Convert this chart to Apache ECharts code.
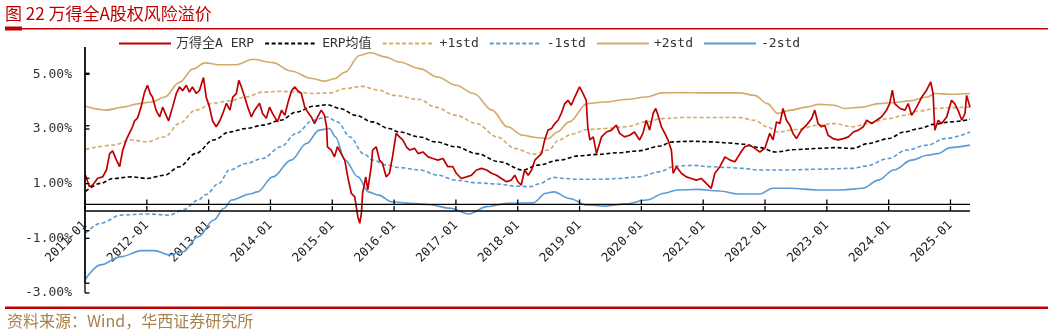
<!DOCTYPE html>
<html>
<head>
<meta charset="utf-8">
<script src="https://cdn.jsdelivr.net/npm/echarts@6/dist/echarts.min.js"></script>
<style>
  html, body { margin: 0; padding: 0; background: #fff; }
  #chart { width: 1053px; height: 336px; }
</style>
</head>
<body>
<div id="chart"></div>
<script>
// ---- data -------------------------------------------------------------
const titleText = '图 22 万得全A股权风险溢价';
const sourceText = '资料来源：Wind，华西证券研究所';
const seriesNames = ['万得全A ERP', 'ERP均值', '+1std', '-1std', '+2std', '-2std'];

const yRange = { min: -3, max: 6, step: 2 };
const yTickValues = [-3, -1, 1, 3, 5];
const yearTicks = [2011, 2012, 2013, 2014, 2015, 2016, 2017, 2018, 2019, 2020, 2021, 2022, 2023, 2024, 2025];

// 万得全A ERP (%)
const erp = [
  ['2011-01-04',1.31],['2011-01-27',0.89],['2011-02-16',0.95],['2011-03-15',1.2],['2011-04-14',1.25],['2011-05-06',1.5],
  ['2011-05-25',2.1],['2011-06-12',2.2],['2011-07-04',1.86],['2011-07-23',1.62],['2011-08-10',2.2],['2011-09-01',2.6],
  ['2011-09-20',2.85],['2011-10-08',3.08],['2011-10-20',3.3],['2011-11-07',3.4],['2011-11-28',3.8],['2011-12-18',4.35],
  ['2012-01-05',4.6],['2012-01-21',4.3],['2012-02-04',4.17],['2012-02-25',3.69],['2012-03-16',3.44],['2012-04-03',3.8],
  ['2012-04-24',3.5],['2012-05-08',3.3],['2012-06-01',3.8],['2012-06-23',4.3],['2012-07-12',4.54],['2012-07-30',4.4],
  ['2012-08-21',4.6],['2012-09-09',4.35],['2012-09-27',4.54],['2012-10-19',4.3],['2012-11-07',4.4],['2012-12-01',4.88],
  ['2012-12-17',4.17],['2013-01-06',3.8],['2013-01-24',3.3],['2013-02-15',3.08],['2013-03-06',3.3],['2013-03-24',3.57],
  ['2013-04-15',3.94],['2013-05-05',3.69],['2013-05-22',4.17],['2013-06-13',4.3],['2013-06-27',4.78],['2013-07-12',4.54],
  ['2013-08-01',4.17],['2013-08-19',3.8],['2013-09-10',3.44],['2013-09-29',3.69],['2013-10-28',3.94],['2013-11-15',3.57],
  ['2013-12-07',3.39],['2013-12-26',3.8],['2014-01-13',3.57],['2014-02-12',3.26],['2014-03-06',3.69],['2014-03-25',3.5],
  ['2014-04-12',3.94],['2014-05-04',4.4],['2014-05-23',4.54],['2014-06-10',4.4],['2014-07-01',4.3],['2014-07-21',3.8],
  ['2014-08-08',3.62],['2014-08-29',3.44],['2014-09-18',3.2],['2014-10-06',3.44],['2014-10-27',3.69],['2014-11-16',3.5],
  ['2014-11-28',3.08],['2014-12-03',2.35],['2014-12-25',2.23],['2015-01-14',1.98],['2015-02-01',2.35],['2015-02-23',2.1],
  ['2015-03-14',1.86],['2015-04-01',1.25],['2015-04-22',0.65],['2015-05-12',0.52],['2015-05-30',-0.21],['2015-06-11',-0.45],
  ['2015-06-21',-0.08],['2015-06-28',0.65],['2015-07-16',1.25],['2015-07-28',0.77],['2015-08-18',1.62],['2015-08-26',2.23],
  ['2015-09-17',2.35],['2015-10-06',1.86],['2015-10-24',1.74],['2015-11-15',1.25],['2015-12-04',1.38],['2015-12-22',1.98],
  ['2016-01-13',2.84],['2016-02-02',2.71],['2016-02-21',2.6],['2016-03-03',2.47],['2016-03-12',2.35],['2016-04-02',2.23],
  ['2016-05-01',2.29],['2016-05-21',2.1],['2016-06-19',2.16],['2016-07-19',1.98],['2016-08-17',1.92],['2016-09-16',1.86],
  ['2016-10-16',1.92],['2016-11-14',1.62],['2016-12-13',1.62],['2017-01-03',1.38],['2017-02-02',1.19],['2017-03-03',1.25],
  ['2017-04-02',1.31],['2017-05-01',1.5],['2017-05-31',1.56],['2017-06-30',1.5],['2017-07-29',1.38],['2017-08-28',1.31],
  ['2017-09-26',1.19],['2017-10-26',1.07],['2017-11-24',1.13],['2017-12-14',1.31],['2018-01-02',1.07],['2018-01-22',0.95],
  ['2018-02-11',1.5],['2018-03-02',1.31],['2018-03-22',1.5],['2018-04-11',1.86],['2018-04-30',1.98],['2018-05-20',2.1],
  ['2018-06-08',2.6],['2018-06-28',2.96],['2018-07-18',3.02],['2018-08-07',3.2],['2018-08-26',3.32],['2018-09-15',3.57],
  ['2018-10-05',3.93],['2018-10-24',4.05],['2018-11-13',3.87],['2018-12-03',4.17],['2019-01-01',4.54],['2019-01-21',4.3],
  ['2019-02-10',4.05],['2019-02-19',3.08],['2019-03-01',2.6],['2019-03-21',2.71],['2019-04-10',2.1],['2019-04-19',2.04],
  ['2019-05-09',2.71],['2019-06-08',2.89],['2019-07-07',2.96],['2019-08-05',3.14],['2019-08-25',2.84],['2019-09-23',2.71],
  ['2019-10-23',2.77],['2019-11-21',2.89],['2019-12-21',2.6],['2020-01-10',2.84],['2020-01-30',3.32],['2020-02-19',2.96],
  ['2020-03-10',3.57],['2020-03-25',3.75],['2020-04-08',3.5],['2020-04-28',3.08],['2020-05-18',2.84],['2020-06-06',2.6],
  ['2020-06-26',2.23],['2020-07-06',1.38],['2020-07-26',1.62],['2020-08-24',1.38],['2020-09-23',1.25],['2020-10-22',1.19],
  ['2020-11-21',1.13],['2020-12-20',1.19],['2021-01-19',1.01],['2021-02-18',0.83],['2021-03-09',1.38],['2021-04-08',1.62],
  ['2021-05-08',1.98],['2021-06-07',1.86],['2021-07-06',1.8],['2021-08-05',2.1],['2021-09-03',2.35],['2021-10-03',2.41],
  ['2021-11-01',2.29],['2021-12-01',2.16],['2021-12-30',2.29],['2022-01-29',2.84],['2022-02-18',2.6],['2022-03-08',3.26],
  ['2022-03-28',3.2],['2022-04-16',3.75],['2022-05-06',3.32],['2022-05-26',3.14],['2022-06-14',2.84],['2022-07-04',2.65],
  ['2022-08-03',2.96],['2022-09-02',3.14],['2022-10-02',3.38],['2022-10-21',3.69],['2022-11-10',3.2],['2022-11-30',3.08],
  ['2022-12-19',3.14],['2023-01-08',2.77],['2023-02-07',2.65],['2023-03-08',2.6],['2023-04-07',2.65],['2023-05-07',2.71],
  ['2023-06-05',2.89],['2023-07-05',2.96],['2023-08-03',3.08],['2023-08-23',3.32],['2023-09-22',3.2],['2023-10-21',3.32],
  ['2023-11-19',3.44],['2023-12-19',3.69],['2024-01-07',3.93],['2024-01-23',4.42],['2024-02-06',3.93],['2024-03-07',3.75],
  ['2024-04-06',3.69],['2024-04-25',3.93],['2024-05-15',3.5],['2024-06-14',3.8],['2024-07-14',4.17],['2024-08-12',4.42],
  ['2024-09-06',4.72],['2024-09-20',4.3],['2024-09-30',2.96],['2024-10-20',3.32],['2024-11-09',3.2],['2024-12-09',3.44],
  ['2025-01-07',4.05],['2025-01-26',3.93],['2025-02-15',3.69],['2025-03-07',3.32],['2025-03-26',3.57],['2025-04-05',4.23],
  ['2025-04-25',3.8]
];

// ERP均值 (%)
const erpMean = [
  ['2011-01-04',0.72],['2011-04-01',1.01],['2011-06-15',1.19],['2011-10-01',1.25],['2012-01-01',1.19],['2012-04-15',1.31],
  ['2012-07-10',1.62],['2012-10-15',2.1],['2013-02-01',2.6],['2013-05-01',2.89],['2013-08-10',3.02],['2013-11-15',3.14],
  ['2014-03-01',3.32],['2014-06-01',3.62],['2014-09-10',3.83],['2014-12-01',3.89],['2015-02-15',3.75],['2015-05-20',3.5],
  ['2015-08-25',3.26],['2015-12-01',3.02],['2016-02-01',2.89],['2016-06-01',2.71],['2016-09-01',2.53],['2017-01-01',2.35],
  ['2017-05-01',2.1],['2017-09-15',1.8],['2018-02-01',1.5],['2018-05-01',1.68],['2018-09-01',1.86],['2019-01-01',2.02],
  ['2019-04-15',2.07],['2019-08-15',2.13],['2019-12-15',2.2],['2020-04-15',2.37],['2020-07-01',2.53],['2020-11-01',2.55],
  ['2021-02-15',2.53],['2021-06-01',2.49],['2021-08-15',2.45],['2021-12-01',2.32],['2022-03-01',2.16],['2022-07-01',2.25],
  ['2022-11-15',2.29],['2023-02-15',2.32],['2023-06-01',2.29],['2023-09-01',2.47],['2024-01-01',2.65],['2024-04-01',2.89],
  ['2024-07-01',3.02],['2024-10-01',3.18],['2025-01-01',3.26],['2025-04-25',3.35]
];

// +1std (%)
const plus1Std = [
  ['2011-01-04',2.25],['2011-06-15',2.41],['2011-10-01',2.6],['2012-01-01',2.53],['2012-04-15',2.71],['2012-07-10',3.2],
  ['2012-10-15',3.69],['2013-02-01',3.95],['2013-05-01',4.03],['2013-08-10',4.17],['2013-11-15',4.35],['2014-03-01',4.38],
  ['2014-06-01',4.35],['2014-09-10',4.3],['2014-12-15',4.32],['2015-03-20',4.48],['2015-06-25',4.56],['2015-10-01',4.42],
  ['2016-01-01',4.23],['2016-06-01',4.08],['2016-09-01',3.8],['2017-01-01',3.5],['2017-05-01',3.2],['2017-09-01',2.71],
  ['2017-12-15',2.29],['2018-04-01',2.08],['2018-07-01',2.23],['2018-09-01',2.6],['2018-11-15',2.81],['2019-02-15',2.98],
  ['2019-06-01',3.02],['2019-10-01',3.08],['2020-02-01',3.26],['2020-05-01',3.38],['2020-09-01',3.42],['2021-01-01',3.42],
  ['2021-08-01',3.42],['2021-11-01',3.32],['2022-01-15',3.08],['2022-03-15',2.89],['2022-07-01',2.98],['2022-11-15',3.14],
  ['2023-02-15',3.2],['2023-06-01',3.08],['2023-09-01',3.2],['2024-01-01',3.38],['2024-04-01',3.5],['2024-07-01',3.66],
  ['2024-10-01',3.75],['2025-01-01',3.78],['2025-04-25',3.8]
];

// -1std (%)
const minus1Std = [
  ['2011-01-04',-0.81],['2011-04-01',-0.45],['2011-08-01',-0.15],['2012-01-01',-0.11],['2012-05-15',-0.15],['2012-08-01',0.04],
  ['2012-11-01',0.4],['2012-12-15',0.6],['2013-03-01',1.01],['2013-05-01',1.5],['2013-08-10',1.74],['2013-11-15',1.92],
  ['2014-03-01',2.35],['2014-06-01',2.84],['2014-09-10',3.32],['2014-12-01',3.44],['2015-02-01',3.26],['2015-04-15',2.71],
  ['2015-07-01',2.1],['2015-09-01',1.86],['2015-11-15',1.68],['2016-02-01',1.59],['2016-06-01',1.5],['2016-09-15',1.31],
  ['2017-01-01',1.13],['2017-05-01',1.03],['2017-09-01',0.99],['2017-12-20',0.91],['2018-03-15',0.89],['2018-05-01',0.99],
  ['2018-08-01',1.23],['2018-10-01',1.19],['2019-01-01',1.16],['2019-05-01',1.16],['2019-08-15',1.19],['2019-12-15',1.25],
  ['2020-04-15',1.43],['2020-07-15',1.64],['2020-11-01',1.67],['2021-02-15',1.62],['2021-06-01',1.59],['2021-08-15',1.56],
  ['2021-12-01',1.5],['2022-05-01',1.5],['2022-11-15',1.53],['2023-06-01',1.56],['2023-08-15',1.64],['2024-01-01',1.92],
  ['2024-04-15',2.23],['2024-08-15',2.41],['2024-12-01',2.65],['2025-04-25',2.89]
];

// +2std (%)
const plus2Std = [
  ['2011-01-04',3.83],['2011-05-01',3.69],['2011-08-15',3.8],['2011-11-15',3.93],['2012-02-01',3.99],['2012-04-15',4.17],
  ['2012-07-10',4.7],['2012-10-01',5.2],['2012-12-10',5.42],['2013-03-01',5.35],['2013-06-10',5.35],['2013-09-20',5.55],
  ['2014-01-15',5.43],['2014-05-01',5.12],['2014-09-01',4.85],['2014-11-15',4.75],['2015-01-15',4.84],['2015-03-15',5.08],
  ['2015-06-10',5.69],['2015-08-15',5.79],['2015-11-15',5.63],['2016-02-01',5.45],['2016-06-01',5.21],['2016-09-15',4.9],
  ['2017-01-01',4.6],['2017-04-15',4.3],['2017-08-01',3.69],['2017-11-01',3.08],['2018-02-01',2.77],['2018-04-15',2.69],
  ['2018-07-01',2.65],['2018-08-20',2.89],['2018-11-01',3.26],['2019-02-15',3.93],['2019-06-01',3.99],['2019-10-01',4.08],
  ['2020-02-01',4.17],['2020-05-01',4.32],['2020-09-01',4.33],['2021-01-01',4.32],['2021-08-01',4.32],['2021-11-01',4.23],
  ['2022-01-15',3.93],['2022-03-15',3.57],['2022-06-01',3.69],['2022-09-01',3.8],['2022-11-15',3.9],['2023-02-15',3.87],
  ['2023-04-15',3.75],['2023-08-01',3.8],['2023-11-01',3.93],['2024-02-01',3.97],['2024-05-01',4.03],['2024-08-15',4.17],
  ['2024-10-01',4.3],['2025-01-01',4.27],['2025-04-25',4.3]
];

// -2std (%)
const minus2Std = [
  ['2011-01-04',-2.49],['2011-04-01',-1.97],['2011-08-01',-1.67],['2011-12-01',-1.45],['2012-02-15',-1.45],['2012-05-15',-1.61],
  ['2012-08-01',-1.49],['2012-11-01',-0.94],['2013-02-01',-0.33],['2013-04-01',0.1],['2013-05-15',0.4],['2013-09-01',0.62],
  ['2013-10-15',0.7],['2014-01-15',1.25],['2014-05-01',1.86],['2014-08-01',2.47],['2014-10-15',2.96],['2014-12-15',3.02],
  ['2015-01-20',2.71],['2015-03-15',1.86],['2015-06-01',1.25],['2015-08-01',0.7],['2015-10-01',0.58],['2015-12-15',0.34],
  ['2016-04-01',0.28],['2016-07-15',0.24],['2016-12-01',0.1],['2017-03-15',-0.11],['2017-07-01',0.16],['2017-11-01',0.28],
  ['2018-04-01',0.3],['2018-06-15',0.65],['2018-08-01',0.7],['2018-11-01',0.46],['2019-02-15',0.22],['2019-06-01',0.18],
  ['2019-10-01',0.26],['2020-02-01',0.4],['2020-05-15',0.65],['2020-08-01',0.77],['2020-12-01',0.79],['2021-04-01',0.73],
  ['2021-08-01',0.62],['2021-12-01',0.62],['2022-02-15',0.83],['2022-06-01',0.83],['2022-11-01',0.77],['2023-04-01',0.77],
  ['2023-08-01',0.83],['2023-11-01',1.13],['2024-02-01',1.5],['2024-05-15',1.86],['2024-08-15',2.04],['2024-10-15',2.1],
  ['2025-01-01',2.32],['2025-04-25',2.41]
];

// ---- helpers ----------------------------------------------------------
// date string -> fractional year, used as the x value
function yearPos(d) {
  const [y, m, dd] = d.split('-').map(Number);
  return y + (m - 1) / 12 + (dd - 1) / 365;
}
const toXY = arr => arr.map(([d, v]) => [yearPos(d), v]);

const xMin = yearTicks[0];
const xMax = yearPos(erp[erp.length - 1][0]);

const RED = '#c00000';
const TAN = '#d4a96a';
const BLUE = '#5b9bd5';
const MONO = '"DejaVu Sans Mono", "Noto Sans CJK SC", monospace';
const CJK = '"Noto Sans CJK SC", sans-serif';
const AXIS_W = 1.3;

// fixed text boxes so legend entries sit at their usual spacing
const legendTextWidths = [114, 86, 59, 68, 65, 45];
const legendRich = {};
legendTextWidths.forEach((w, i) => {
  legendRich['w' + i] = { width: w, fontFamily: MONO, fontSize: 13, color: '#333' };
});

function lineSeries(name, data, color, type, width, z) {
  return {
    name, type: 'line', data: toXY(data),
    symbol: 'none', showSymbol: false,
    smooth: name === seriesNames[0] ? false : 0.35,
    smoothMonotone: 'x',
    lineStyle: { color, width, type },
    itemStyle: { color },
    z
  };
}

// axis strokes (date axis along 0%, value axis at the left edge, inward ticks),
// built from a point-to-pixel function so they follow the grid's scales
function axisRects(toPx) {
  const out = [];
  const a = toPx([xMin, 0]);
  const b = toPx([xMax, 0]);
  out.push({ x: a[0], y: a[1] - AXIS_W / 2, width: b[0] - a[0], height: AXIS_W });
  const top = toPx([xMin, yRange.max]);
  const bot = toPx([xMin, yRange.min]);
  out.push({ x: top[0] - AXIS_W / 2, y: top[1], width: AXIS_W, height: bot[1] - top[1] });
  yearTicks.forEach(yr => {
    const p = toPx([yr, 0]);
    out.push({ x: p[0] - AXIS_W / 2, y: p[1] - 5, width: AXIS_W, height: 5 });
  });
  yTickValues.forEach(v => {
    const p = toPx([xMin, v]);
    out.push({ x: p[0], y: p[1] - AXIS_W / 2, width: 4.5, height: AXIS_W });
  });
  return out;
}

function renderAxes(params, api) {
  return {
    type: 'group',
    children: axisRects(pt => api.coord(pt)).map(r => ({ type: 'rect', shape: r, style: { fill: '#000' } }))
  };
}

const chart = echarts.init(document.getElementById('chart'), null, { renderer: 'canvas' });

chart.setOption({
  animation: false,
  backgroundColor: '#fff',
  grid: { left: 85, right: 83, top: 47, bottom: 43, containLabel: false },
  legend: {
    top: 37, left: 118, padding: 0,
    itemWidth: 52, itemHeight: 12, itemGap: 10,
    itemStyle: { opacity: 0 },
    textStyle: { fontFamily: MONO, fontSize: 13, color: '#333', rich: legendRich },
    formatter: name => '{w' + seriesNames.indexOf(name) + '|' + name + '}',
    data: seriesNames
  },
  xAxis: {
    type: 'value', min: xMin, max: xMax, interval: 1,
    axisLine: { show: false, onZero: false },
    axisTick: { show: false },
    axisLabel: {
      rotate: 45, margin: 9, showMaxLabel: false,
      formatter: v => Math.round(v) + '-01',
      fontFamily: MONO, fontSize: 12.5, color: '#222'
    },
    splitLine: { show: false }
  },
  yAxis: {
    type: 'value', min: yRange.min, max: yRange.max, interval: yRange.step,
    axisLine: { show: false, onZero: false },
    axisTick: { show: false },
    axisLabel: {
      margin: 13, showMaxLabel: false,
      formatter: v => v.toFixed(2) + '%',
      fontFamily: MONO, fontSize: 13, color: '#333'
    },
    splitLine: { show: false }
  },
  series: [
    lineSeries(seriesNames[0], erp, RED, 'solid', 1.7, 10),
    lineSeries(seriesNames[1], erpMean, '#000', [4, 2.5], 1.6, 5),
    lineSeries(seriesNames[2], plus1Std, TAN, [4, 2.5], 1.6, 4),
    lineSeries(seriesNames[3], minus1Std, BLUE, [4, 2.5], 1.6, 4),
    lineSeries(seriesNames[4], plus2Std, TAN, 'solid', 1.6, 3),
    lineSeries(seriesNames[5], minus2Std, BLUE, 'solid', 1.6, 3),
    {
      name: 'axes', type: 'custom', silent: true, clip: false,
      zlevel: 1, z: 100,
      data: [[xMin, 0]], encode: { x: 0, y: 1 },
      renderItem: renderAxes
    }
  ]
});

// date labels sit at the 0% level; the frame graphics go on their own layer
const zeroY = chart.convertToPixel({ yAxisIndex: 0 }, 0);
const baseY = chart.convertToPixel({ yAxisIndex: 0 }, yRange.min);
const toPx = pt => chart.convertToPixel({ gridIndex: 0 }, pt);

chart.setOption({
  xAxis: { offset: zeroY - baseY },
  graphic: [
    { type: 'text', left: 5, top: 5,
      style: { text: titleText, fill: RED, font: '17px ' + CJK } },
    { type: 'rect', shape: { x: 5, y: 28, width: 1043, height: 1.6 }, style: { fill: RED } },
    { type: 'rect', shape: { x: 5, y: 26.5, width: 17, height: 4 }, style: { fill: RED } },
    { type: 'rect', shape: { x: 5, y: 306.5, width: 1043, height: 2.5 }, style: { fill: RED } },
    { type: 'text', left: 7, top: 313,
      style: { text: sourceText, fill: '#a8824c', font: '16px ' + CJK } }
  ].concat(axisRects(toPx).map(r => ({
    type: 'rect', shape: r, style: { fill: '#000' }, zlevel: 1, z: 100, silent: true
  })))
});
</script>
</body>
</html>
